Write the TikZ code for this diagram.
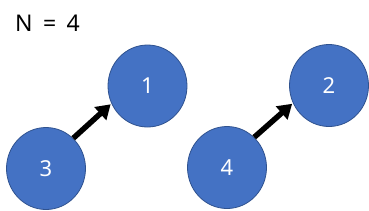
\documentclass[tikz,border=0pt]{standalone}
\usepackage{fontspec}
\setmainfont{Noto Sans}
\usepackage{xcolor}
\usetikzlibrary{arrows.meta, positioning, shapes.geometric}
\definecolor{nodeblue}{HTML}{4472C4}
\definecolor{nodeedge}{HTML}{2F528F}

\begin{document}
\begin{tikzpicture}[x=1pt, y=-1pt,
        vert/.style={ellipse, draw=nodeedge, fill=nodeblue, line width=0.8pt,
                     minimum width=79pt, minimum height=82pt, inner sep=0pt,
                     text=white, font=\fontsize{22}{24}\selectfont},
        line/.style={line width=5.5pt, -{Triangle[length=14pt, width=17pt]}, shorten >=1pt}
    ]
    \useasboundingbox (0,0) rectangle (369,210);
    \node [anchor=west, inner sep=0pt, font=\fontsize{23}{26}\selectfont] (title) at (15,23) {N\hspace{0.45em}=\hspace{0.45em}4};
    \node [vert] (v1) at (147.5,86) {1};
    \node [vert] (v2) at (329,85.5) {2};
    \node [vert] (v3) at (46,168.5) {3};
    \node [vert] (v4) at (227,167.5) {4};
    \draw[line] (v3.48) -- (v1.206);
    \draw[line] (v4.48) -- (v2.206);
  \end{tikzpicture}
\end{document}
